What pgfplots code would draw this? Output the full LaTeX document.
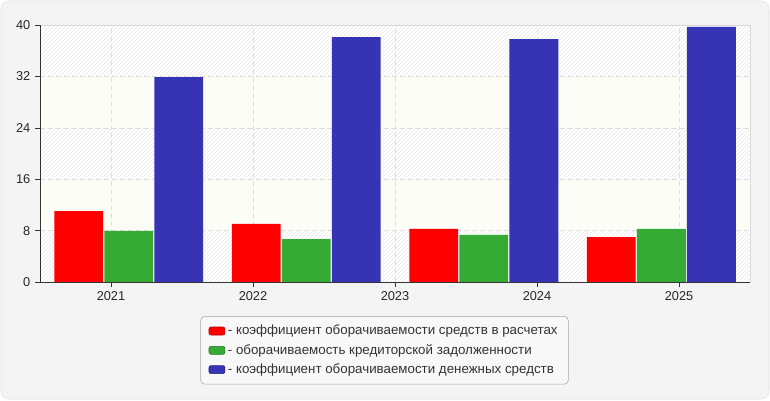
\documentclass[border=0pt]{standalone}
\usepackage{pgfplots}
\pgfplotsset{compat=1.18}
\usepackage{fontspec}
\setmainfont{Liberation Sans}
\usetikzlibrary{patterns}
\definecolor{cred}{HTML}{FF0000}
\definecolor{cgreen}{HTML}{35AA35}
\definecolor{cblue}{HTML}{3634B4}
\definecolor{bgc}{HTML}{F4F4F4}
\definecolor{bandc}{HTML}{FDFDF8}
\definecolor{legc}{HTML}{F8F8F8}
\begin{document}
\begin{tikzpicture}
\useasboundingbox (0,0) rectangle (577.5pt,300pt);
\fill[bgc, draw=black!12, rounded corners=6pt] (0.75pt,0.75pt) rectangle (576.75pt,299.25pt);
% background bands of the plot area (8 units = 38.55pt)
\fill[white] (30pt,88.5pt) rectangle (562.5pt,281.25pt);
\foreach \k in {0,2,4} {
  \fill[pattern=north east lines, pattern color=black!9] (30pt,88.5pt+\k*38.55pt) rectangle (562.5pt,88.5pt+\k*38.55pt+38.55pt);
}
\foreach \k in {1,3} {
  \fill[bandc] (30pt,88.5pt+\k*38.55pt) rectangle (562.5pt,88.5pt+\k*38.55pt+38.55pt);
}
\begin{axis}[
  at={(30pt,88.5pt)}, anchor=south west,
  scale only axis, width=532.5pt, height=192.75pt,
  xmin=-0.5, xmax=3.5, ymin=0, ymax=40,
  xtick={-0.1,0.7,1.5,2.3,3.1}, xticklabels={2021,2022,2023,2024,2025},
  ytick={0,8,16,24,32,40},
  grid=major, grid style={dash pattern=on 3.5pt off 2.5pt, draw=black!13},
  tick align=outside, tick pos=left, major tick length=3.75pt,
  tick style={draw=black!80},
  axis line style={draw=black!15},
  ticklabel style={font=\fontsize{9.6}{10}\selectfont, text=black!85},
  /pgf/number format/assume math mode=true,
  ybar, bar width=0.276,
  legend style={at={(0.4852,-0.133)}, anchor=north, draw=black!35, rounded corners=3pt,
    fill=legc, inner xsep=6pt, inner ysep=4.5pt, row sep=1.6pt,
    font=\fontsize{10}{12}\selectfont, text=black!80},
  legend cell align=left,
]
\addplot[fill=cred, draw=none, bar shift=-0.2817,
  legend image code/.code={\draw[fill=cred, draw=cred!70!black, rounded corners=1.5pt] (0pt,-3pt) rectangle (12pt,3pt);}]
  coordinates {(0,11.05) (1,9.03) (2,8.25) (3,7.0)};
\addlegendentry{- коэффициент оборачиваемости средств в расчетах}
\addplot[fill=cgreen, draw=none, bar shift=0,
  legend image code/.code={\draw[fill=cgreen, draw=cgreen!70!black, rounded corners=1.5pt] (0pt,-3pt) rectangle (12pt,3pt);}]
  coordinates {(0,7.94) (1,6.69) (2,7.32) (3,8.25)};
\addlegendentry{- оборачиваемость кредиторской задолженности}
\addplot[fill=cblue, draw=none, bar shift=0.2817,
  legend image code/.code={\draw[fill=cblue, draw=cblue!70!black, rounded corners=1.5pt] (0pt,-3pt) rectangle (12pt,3pt);}]
  coordinates {(0,31.9) (1,38.13) (2,37.8) (3,39.7)};
\addlegendentry{- коэффициент оборачиваемости денежных средств}
\draw[black!80] (rel axis cs:0,1) -- (rel axis cs:0,0) -- (rel axis cs:1,0);
\end{axis}
\end{tikzpicture}
\end{document}
